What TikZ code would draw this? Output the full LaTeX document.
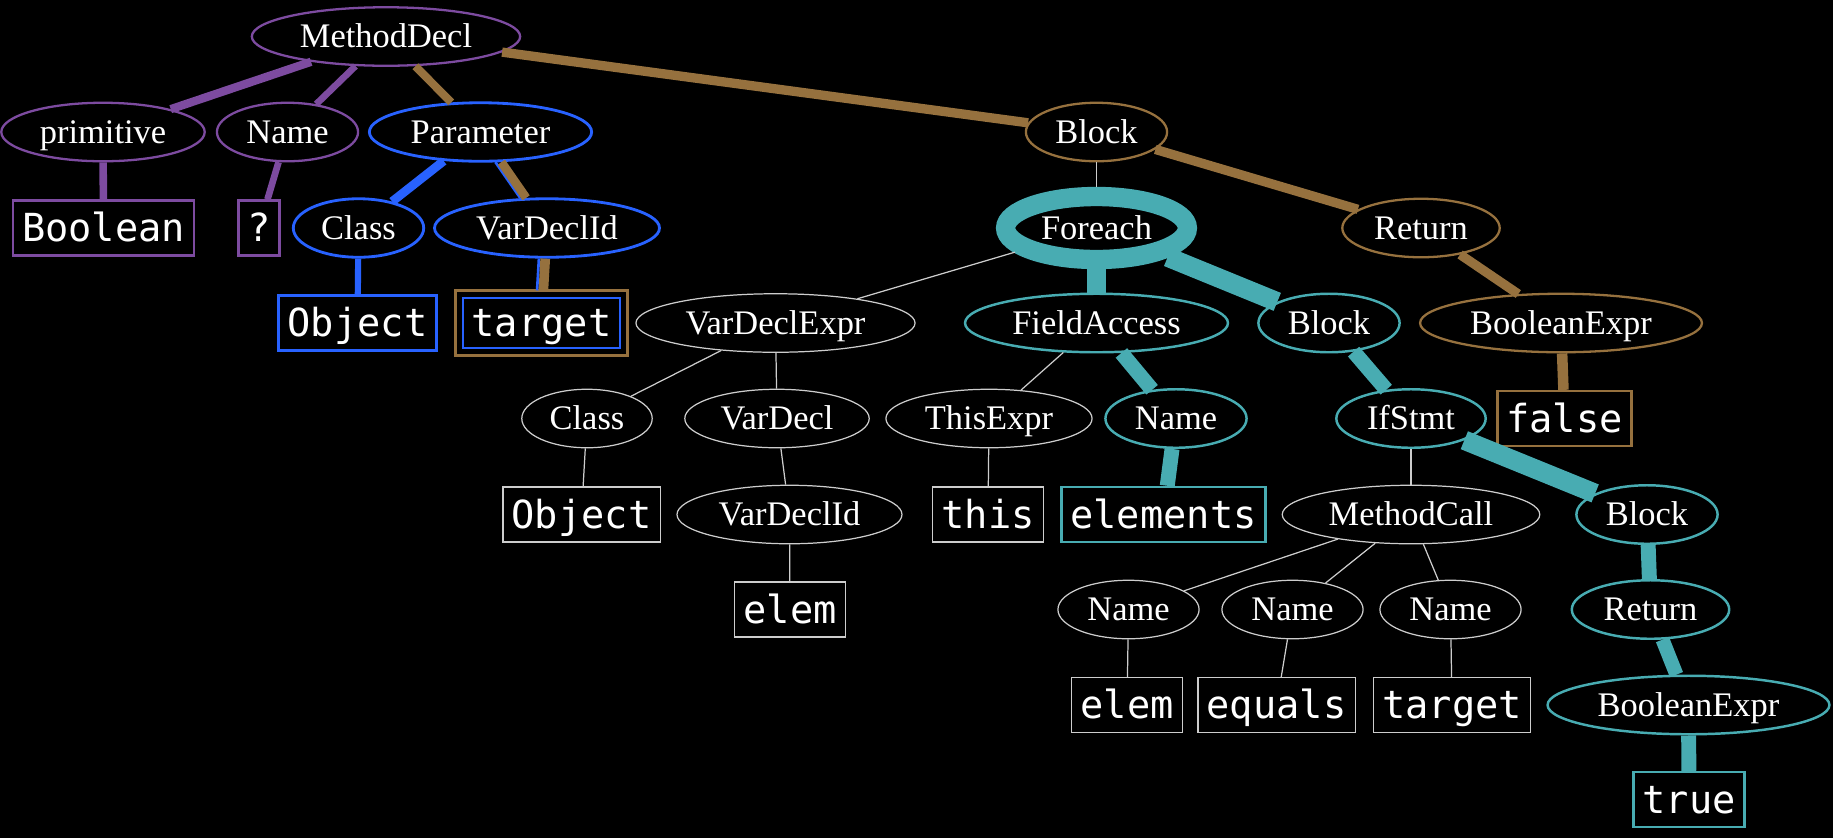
\documentclass[tikz,border=0pt]{standalone}
\usepackage{fontspec}
\setmainfont{Liberation Serif}
\setmonofont{DejaVu Sans Mono}
\usepackage{tikz}
\usetikzlibrary{shapes.geometric}

\definecolor{astpurple}{RGB}{125,75,160}
\definecolor{astblue}{RGB}{40,98,255}
\definecolor{astbrown}{RGB}{150,113,62}
\definecolor{astteal}{RGB}{72,172,178}
\definecolor{astgray}{RGB}{205,205,205}

\begin{document}
\begin{tikzpicture}[
        ast/.style   = {ellipse, text=white, inner xsep=5pt, inner ysep=0pt, minimum height=1.17cm,
                        text height=14pt, text depth=1pt, font=\fontsize{19.6}{22}\selectfont},
        tok/.style   = {rectangle, text=white, inner xsep=5pt, inner ysep=0pt, minimum height=1.1cm,
                        text height=16.5pt, text depth=0.6pt, font=\fontsize{22}{26}\selectfont\ttfamily},
        gnode/.style = {draw=astgray,   line width=0.7pt},
        pnode/.style = {draw=astpurple, line width=1.3pt},
        bnode/.style = {draw=astblue,   line width=1.6pt},
        rnode/.style = {draw=astbrown,  line width=1.3pt},
        tnode/.style = {draw=astteal,   line width=1.4pt},
        gedge/.style = {draw=astgray,   line width=0.7pt},
        pedge/.style = {draw=astpurple},
        bedge/.style = {draw=astblue},
        redge/.style = {draw=astbrown},
        tedge/.style = {draw=astteal}
    ]
    \path[use as bounding box, fill=black] (0,0) rectangle (36.66,-16.76);

    \node[ast, pnode] (md)    at ( 7.72, -0.73) {MethodDecl};

    \node[ast, pnode] (prim)  at ( 2.06, -2.64) {primitive};
    \node[ast, pnode] (nm1)   at ( 5.75, -2.64) {Name};
    \node[ast, bnode] (par)   at ( 9.61, -2.64) {Parameter};
    \node[ast, rnode] (blk1)  at (21.93, -2.64) {Block};

    \node[tok, pnode] (bool)  at ( 2.07, -4.56) {Boolean};
    \node[tok, pnode] (qm)    at ( 5.18, -4.56) {?};
    \node[ast, bnode] (cls1)  at ( 7.17, -4.56) {Class};
    \node[ast, bnode] (vdi1)  at (10.94, -4.56) {VarDeclId};
    \node[ast, draw=astteal, line width=11pt, minimum height=1.26cm]
                      (fe)    at (21.93, -4.56) {Foreach};
    \node[ast, rnode] (ret1)  at (28.42, -4.56) {Return};

    \node[tok, bnode] (obj1)  at ( 7.15, -6.46) {Object};
    \node[tok, draw=astblue, line width=1.5pt, minimum height=1.0cm, outer sep=4.3pt]
                      (tgt1)  at (10.83, -6.46) {target};
    \draw[draw=astbrown, line width=1.4pt] (tgt1.north west) rectangle (tgt1.south east);
    \node[ast, gnode] (vde)   at (15.51, -6.46) {VarDeclExpr};
    \node[ast, tnode] (fa)    at (21.93, -6.46) {FieldAccess};
    \node[ast, tnode] (blk2)  at (26.58, -6.46) {Block};
    \node[ast, rnode] (bex1)  at (31.22, -6.46) {BooleanExpr};

    \node[ast, gnode] (cls2)  at (11.74, -8.37) {Class};
    \node[ast, gnode] (vd)    at (15.54, -8.37) {VarDecl};
    \node[ast, gnode] (thx)   at (19.78, -8.37) {ThisExpr};
    \node[ast, tnode] (nm2)   at (23.52, -8.37) {Name};
    \node[ast, tnode] (ifs)   at (28.22, -8.37) {IfStmt};
    \node[tok, rnode] (fls)   at (31.29, -8.37) {false};

    \node[tok, gnode] (obj2)  at (11.63,-10.29) {Object};
    \node[ast, gnode] (vdi2)  at (15.79,-10.29) {VarDeclId};
    \node[tok, gnode] (this)  at (19.76,-10.29) {this};
    \node[tok, tnode] (elms)  at (23.27,-10.29) {elements};
    \node[ast, gnode] (mc)    at (28.22,-10.29) {MethodCall};
    \node[ast, tnode] (blk3)  at (32.94,-10.29) {Block};

    \node[tok, gnode] (elm1)  at (15.80,-12.19) {elem};
    \node[ast, gnode] (nm3)   at (22.57,-12.19) {Name};
    \node[ast, gnode] (nm4)   at (25.85,-12.19) {Name};
    \node[ast, gnode] (nm5)   at (29.01,-12.19) {Name};
    \node[ast, tnode] (ret2)  at (33.01,-12.19) {Return};

    \node[tok, gnode] (elm2)  at (22.54,-14.10) {elem};
    \node[tok, gnode] (eqs)   at (25.53,-14.10) {equals};
    \node[tok, gnode] (tgt2)  at (29.04,-14.10) {target};
    \node[ast, tnode] (bex2)  at (33.77,-14.10) {BooleanExpr};

    \node[tok, tnode] (tru)   at (33.78,-15.99) {true};

    \draw[pedge, line width=4.7pt] (md)   -- (prim);
    \draw[pedge, line width=3.8pt] (md)   -- (nm1);
    \draw[pedge, line width=4.3pt] (prim) -- (bool);
    \draw[pedge, line width=3.8pt] (nm1)  -- (qm);

    \draw[redge, line width=4.6pt] (md)   -- (par);
    \draw[redge, line width=5.3pt] (md)   -- (blk1);
    \draw[redge, line width=5.3pt] (blk1) -- (ret1);
    \draw[redge, line width=5.3pt] (ret1) -- (bex1);
    \draw[redge, line width=6pt]   (bex1) -- (fls);

    \draw[bedge, line width=5pt]   (par)  -- (cls1);
    \draw[bedge, line width=3.5pt] (cls1) -- (obj1);
    \draw[bedge, line width=1.5pt, transform canvas={xshift=-3.4pt}] (par)  -- (vdi1);
    \draw[redge, line width=5pt]   (par)  -- (vdi1);
    \draw[bedge, line width=1.5pt, transform canvas={xshift=-3.6pt}] (vdi1) -- (tgt1);
    \draw[redge, line width=5.5pt] (vdi1) -- (tgt1);

    \draw[tedge, line width=11pt]  (fe)   -- (fa);
    \draw[tedge, line width=11pt]  (fe)   -- (blk2);
    \draw[tedge, line width=11pt]  (ifs)  -- (blk3);
    \draw[tedge, line width=8.5pt] (fa)   -- (nm2);
    \draw[tedge, line width=8.5pt] (blk2) -- (ifs);
    \draw[tedge, line width=8.5pt] (nm2)  -- (elms);
    \draw[tedge, line width=8.5pt] (blk3) -- (ret2);
    \draw[tedge, line width=8pt]   (ret2) -- (bex2);
    \draw[tedge, line width=8.5pt] (bex2) -- (tru);

    \draw[gedge] (blk1) -- (fe);
    \draw[gedge] (fe)   -- (vde);
    \draw[gedge] (vde)  -- (cls2);
    \draw[gedge] (vde)  -- (vd);
    \draw[gedge] (cls2) -- (obj2);
    \draw[gedge] (vd)   -- (vdi2);
    \draw[gedge] (vdi2) -- (elm1);
    \draw[gedge] (fa)   -- (thx);
    \draw[gedge] (thx)  -- (this);
    \draw[gedge] (ifs)  -- (mc);
    \draw[gedge] (mc)   -- (nm3);
    \draw[gedge] (mc)   -- (nm4);
    \draw[gedge] (mc)   -- (nm5);
    \draw[gedge] (nm3)  -- (elm2);
    \draw[gedge] (nm4)  -- (eqs);
    \draw[gedge] (nm5)  -- (tgt2);
\end{tikzpicture}
\end{document}
